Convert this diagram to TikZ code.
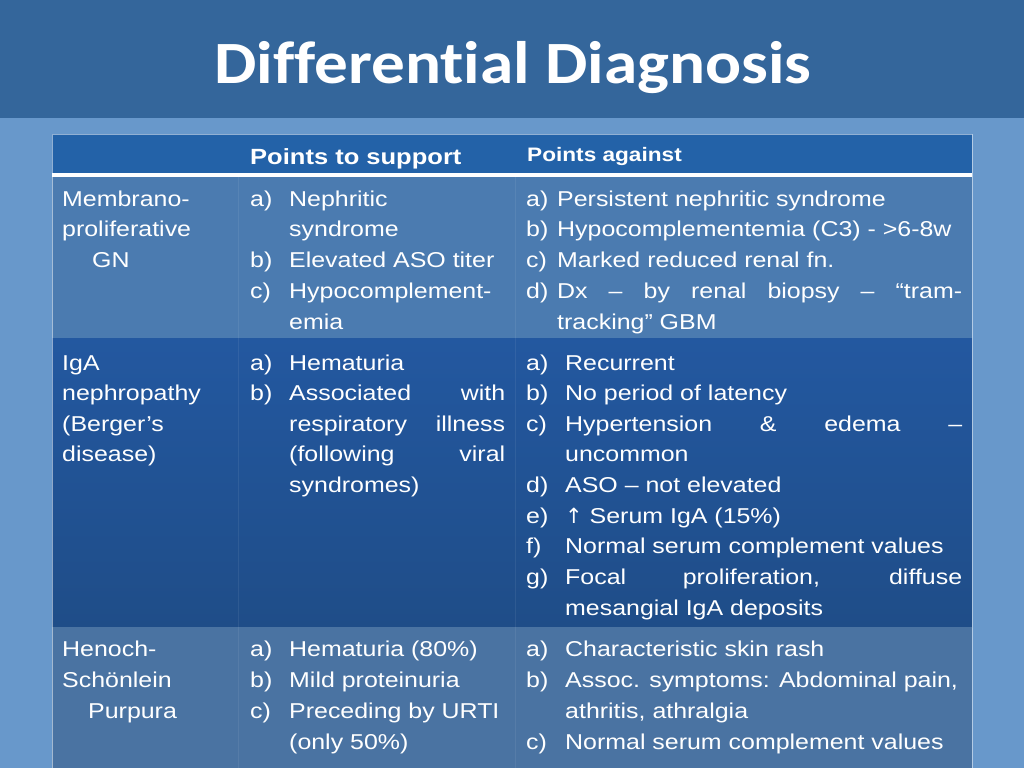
\documentclass[tikz,border=0pt]{standalone}
\usepackage{fontspec}
\setmainfont{Liberation Sans}[FakeStretch=1.16]
\newfontfamily\titlefont{Carlito}[FakeStretch=1.12,Ligatures=NoCommon]
\newfontfamily\arrowfont{DejaVu Sans}
\definecolor{bg}{HTML}{6898CB}
\definecolor{band}{HTML}{34669B}
\definecolor{hdr}{HTML}{2362A8}
\definecolor{rowa}{HTML}{4B7BB0}
\definecolor{rowbt}{HTML}{2358A0}
\definecolor{rowbb}{HTML}{1F4D88}
\definecolor{rowc}{HTML}{4A73A2}
\newcounter{tn}
\newcommand\tx[3]{\stepcounter{tn}\node[txt] (t\arabic{tn}) at (#1,#2) {#3};}
\begin{document}
\begin{tikzpicture}[x=1pt,y=-1pt,
  txt/.style={anchor=base west,inner sep=0pt,text=white,font=\fontsize{21.5}{24}\selectfont}]
\useasboundingbox (0,0) rectangle (1024,768);
\fill[bg] (0,0) rectangle (1024,768);
\fill[band] (0,0) rectangle (1024,118);
\node[text=white,font=\titlefont\bfseries\fontsize{60}{66}\selectfont,inner sep=0pt] (title) at (513,68) {Differential Diagnosis};
% table
\fill[hdr] (52,134) rectangle (972,173);
\fill[white] (52,173) rectangle (972,177);
\fill[rowa] (52,177) rectangle (972,338);
\shade[top color=rowbt,bottom color=rowbb] (52,338) rectangle (972,627);
\fill[rowc] (52,627) rectangle (972,768);
\draw[white,opacity=0.5] (52,134) rectangle (972,768);
\draw[white,opacity=0.07] (238,177) -- (238,768) (515,177) -- (515,768);
% header
\node[anchor=base west,inner sep=0pt,text=white,font=\bfseries\fontsize{22}{24}\selectfont] (h1) at (250,164) {Points to support};
\node[anchor=base west,inner sep=0pt,text=white,font=\bfseries\fontsize{19.5}{22}\selectfont] (h2) at (527,161) {Points against};
% row 1
\tx{62}{206}{Membrano-}
\tx{62}{236}{proliferative}
\tx{92}{267}{GN}
\tx{250}{206}{a)}\tx{289}{206}{Nephritic}
\tx{289}{236}{syndrome}
\tx{250}{267}{b)}\tx{289}{267}{Elevated ASO titer}
\tx{250}{298}{c)}\tx{289}{298}{Hypocomplement-}
\tx{289}{329}{emia}
\tx{526}{206}{a)}\tx{557}{206}{Persistent nephritic syndrome}
\tx{526}{236}{b)}\tx{557}{236}{Hypocomplementemia (C3) - >6-8w}
\tx{526}{267}{c)}\tx{557}{267}{Marked reduced renal fn.}
\tx{526}{298}{d)}\tx{557}{298}{\makebox[405pt][s]{Dx – by renal biopsy – “tram-}}
\tx{557}{329}{tracking” GBM}
% row 2
\tx{62}{370}{IgA}
\tx{62}{400}{nephropathy}
\tx{62}{431}{(Berger’s}
\tx{62}{461}{disease)}
\tx{250}{370}{a)}\tx{289}{370}{Hematuria}
\tx{250}{400}{b)}\tx{289}{400}{\makebox[216pt][s]{Associated with}}
\tx{289}{431}{\makebox[216pt][s]{respiratory illness}}
\tx{289}{461}{\makebox[216pt][s]{(following viral}}
\tx{289}{492}{syndromes)}
\tx{526}{370}{a)}\tx{565}{370}{Recurrent}
\tx{526}{400}{b)}\tx{565}{400}{No period of latency}
\tx{526}{431}{c)}\tx{565}{431}{\makebox[397pt][s]{Hypertension \& edema –}}
\tx{565}{461}{uncommon}
\tx{526}{492}{d)}\tx{565}{492}{ASO – not elevated}
\tx{526}{523}{e)}\tx{565}{523}{{\arrowfont\fontsize{21}{24}\selectfont↑} Serum IgA (15\%)}
\tx{526}{553}{f)}\tx{565}{553}{Normal serum complement values}
\tx{526}{584}{g)}\tx{565}{584}{\makebox[397pt][s]{Focal proliferation, diffuse}}
\tx{565}{615}{mesangial IgA deposits}
% row 3
\tx{62}{656}{Henoch-}
\tx{62}{687}{Schönlein}
\tx{88}{718}{Purpura}
\tx{250}{656}{a)}\tx{289}{656}{Hematuria (80\%)}
\tx{250}{687}{b)}\tx{289}{687}{Mild proteinuria}
\tx{250}{718}{c)}\tx{289}{718}{Preceding by URTI}
\tx{289}{749}{(only 50\%)}
\tx{526}{656}{a)}\tx{565}{656}{Characteristic skin rash}
\tx{526}{687}{b)}\tx{565}{687}{Assoc. symptoms: Abdominal pain,}
\tx{565}{718}{athritis, athralgia}
\tx{526}{749}{c)}\tx{565}{749}{Normal serum complement values}
\end{tikzpicture}
\end{document}
